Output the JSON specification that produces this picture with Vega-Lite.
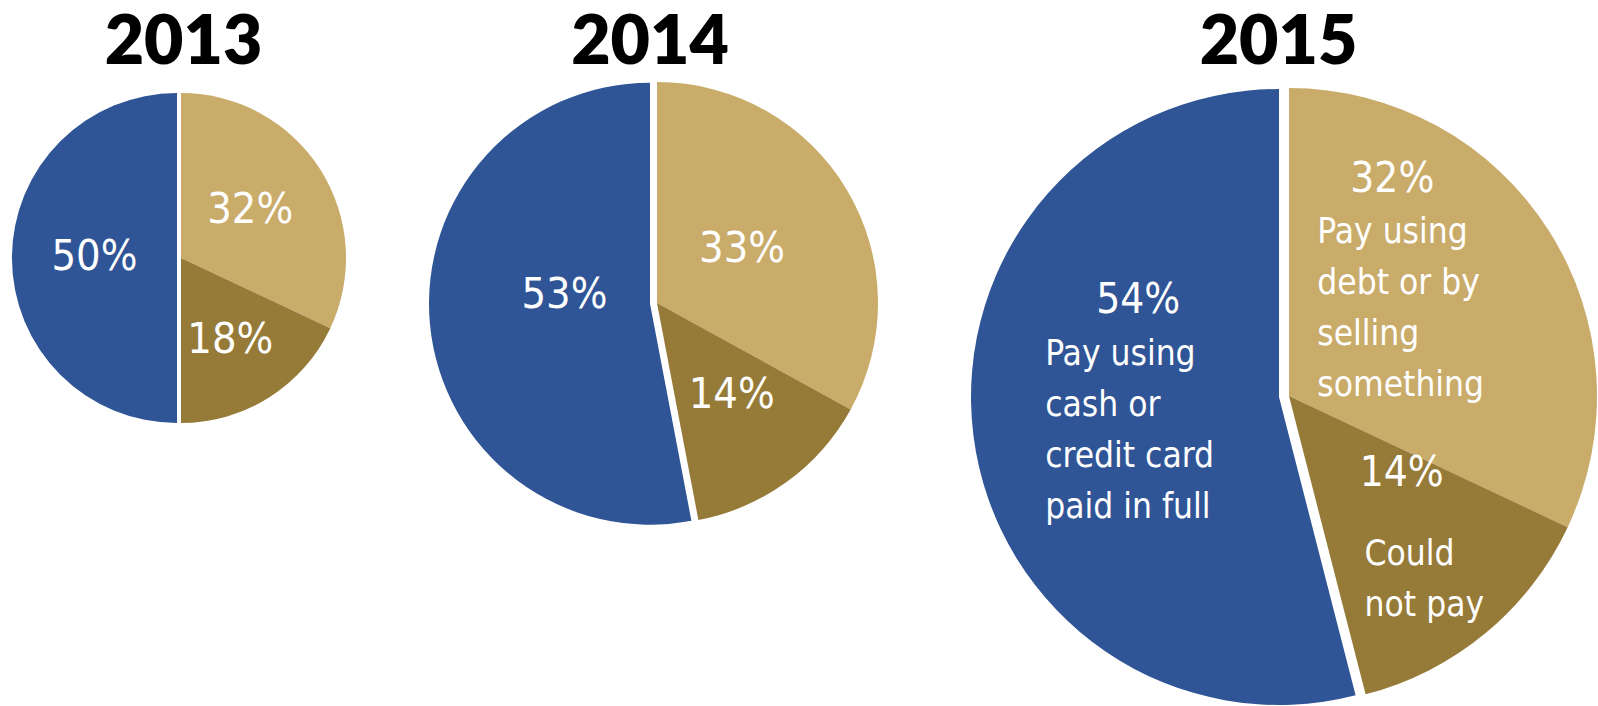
{
  "$schema": "https://vega.github.io/schema/vega-lite/v6.json",
  "padding": {"left": 12, "top": 10, "right": 0, "bottom": 0},
  "bounds": "flush",
  "spacing": 10,
  "background": "white",
  "config": {
    "view": {"stroke": null},
    "title": {"font": "Lato", "fontWeight": 800, "fontSize": 68, "color": "black", "anchor": "middle", "frame": "group", "baseline": "alphabetic", "offset": 9},
    "text": {"font": "DejaVu Sans Condensed, sans-serif", "color": "white", "baseline": "alphabetic", "align": "center", "lineBreak": "\n"}
  },
  "datasets": {
    "pies": [
      {"year": 2013, "answer": "Pay using\ndebt or by\nselling\nsomething", "share": 0.32, "rank": 1},
      {"year": 2013, "answer": "Could\nnot pay", "share": 0.18, "rank": 2},
      {"year": 2013, "answer": "Pay using\ncash or\ncredit card\npaid in full", "share": 0.50, "rank": 3},
      {"year": 2014, "answer": "Pay using\ndebt or by\nselling\nsomething", "share": 0.33, "rank": 1},
      {"year": 2014, "answer": "Could\nnot pay", "share": 0.14, "rank": 2},
      {"year": 2014, "answer": "Pay using\ncash or\ncredit card\npaid in full", "share": 0.53, "rank": 3},
      {"year": 2015, "answer": "Pay using\ndebt or by\nselling\nsomething", "share": 0.32, "rank": 1},
      {"year": 2015, "answer": "Could\nnot pay", "share": 0.14, "rank": 2},
      {"year": 2015, "answer": "Pay using\ncash or\ncredit card\npaid in full", "share": 0.54, "rank": 3}
    ]
  },
  "hconcat": [
    {
      "width": 306, "height": 342,
      "title": {"text": "2013", "dx": 2.5},
      "data": {"name": "pies"},
      "transform": [{"filter": "datum.year == 2013"}],
      "encoding": {
        "theta": {"field": "share", "type": "quantitative", "stack": true},
        "order": {"field": "rank", "type": "quantitative", "sort": "ascending"},
        "detail": {"field": "answer", "type": "nominal"}
      },
      "layer": [
        {"mark": {"type": "arc", "radius": 165},
         "encoding": {
           "color": {"field": "answer", "type": "nominal", "legend": null, "scale": {"domain": ["Pay using\ndebt or by\nselling\nsomething", "Could\nnot pay", "Pay using\ncash or\ncredit card\npaid in full"], "range": ["#C9AB6A", "#967A38", "#2F5596"]}},
           "opacity": {"condition": {"test": "datum.rank == 3", "value": 0}, "value": 1}}},
        {"mark": {"type": "arc", "radius": 165, "xOffset": -4, "yOffset": 0},
         "encoding": {
           "color": {"field": "answer", "type": "nominal", "legend": null},
           "opacity": {"condition": {"test": "datum.rank == 3", "value": 1}, "value": 0}}},
        {"mark": {"type": "text", "radius": 82, "dy": 9, "fontSize": 43},
         "encoding": {"text": {"field": "share", "type": "quantitative", "format": ".0%"},
           "opacity": {"condition": {"test": "datum.rank == 1", "value": 1}, "value": 0}}},
        {"mark": {"type": "text", "radius": 92, "dy": 17, "fontSize": 43},
         "encoding": {"text": {"field": "share", "type": "quantitative", "format": ".0%"},
           "opacity": {"condition": {"test": "datum.rank == 2", "value": 1}, "value": 0}}},
        {"mark": {"type": "text", "radius": 86.5, "dy": 12, "fontSize": 43},
         "encoding": {"text": {"field": "share", "type": "quantitative", "format": ".0%"},
           "opacity": {"condition": {"test": "datum.rank == 3", "value": 1}, "value": 0}}}
      ]
    },
    {
      "width": 626, "height": 432,
      "title": {"text": "2014", "dx": -7, "offset": 4},
      "data": {"name": "pies"},
      "transform": [{"filter": "datum.year == 2014"}],
      "encoding": {
        "theta": {"field": "share", "type": "quantitative", "stack": true},
        "order": {"field": "rank", "type": "quantitative", "sort": "ascending"},
        "detail": {"field": "answer", "type": "nominal"}
      },
      "layer": [
        {"mark": {"type": "arc", "radius": 221},
         "encoding": {
           "color": {"field": "answer", "type": "nominal", "legend": null, "scale": {"domain": ["Pay using\ndebt or by\nselling\nsomething", "Could\nnot pay", "Pay using\ncash or\ncredit card\npaid in full"], "range": ["#C9AB6A", "#967A38", "#2F5596"]}},
           "opacity": {"condition": {"test": "datum.rank == 3", "value": 0}, "value": 1}}},
        {"mark": {"type": "arc", "radius": 221, "xOffset": -7, "yOffset": 0.7},
         "encoding": {
           "color": {"field": "answer", "type": "nominal", "legend": null},
           "opacity": {"condition": {"test": "datum.rank == 3", "value": 1}, "value": 0}}},
        {"mark": {"type": "text", "radius": 100, "dx": -1, "dy": 10, "fontSize": 43},
         "encoding": {"text": {"field": "share", "type": "quantitative", "format": ".0%"},
           "opacity": {"condition": {"test": "datum.rank == 1", "value": 1}, "value": 0}}},
        {"mark": {"type": "text", "radius": 127, "dy": 2, "fontSize": 43},
         "encoding": {"text": {"field": "share", "type": "quantitative", "format": ".0%"},
           "opacity": {"condition": {"test": "datum.rank == 2", "value": 1}, "value": 0}}},
        {"mark": {"type": "text", "radius": 93, "dy": -4, "fontSize": 43},
         "encoding": {"text": {"field": "share", "type": "quantitative", "format": ".0%"},
           "opacity": {"condition": {"test": "datum.rank == 3", "value": 1}, "value": 0}}}
      ]
    },
    {
      "width": 618, "height": 618,
      "title": {"text": "2015", "dx": -10.5},
      "data": {"name": "pies"},
      "transform": [{"filter": "datum.year == 2015"}],
      "encoding": {
        "theta": {"field": "share", "type": "quantitative", "stack": true},
        "order": {"field": "rank", "type": "quantitative", "sort": "ascending"},
        "detail": {"field": "answer", "type": "nominal"}
      },
      "layer": [
        {"mark": {"type": "arc", "radius": 308},
         "encoding": {
           "color": {"field": "answer", "type": "nominal", "legend": null, "scale": {"domain": ["Pay using\ndebt or by\nselling\nsomething", "Could\nnot pay", "Pay using\ncash or\ncredit card\npaid in full"], "range": ["#C9AB6A", "#967A38", "#2F5596"]}},
           "opacity": {"condition": {"test": "datum.rank == 3", "value": 0}, "value": 1}}},
        {"mark": {"type": "arc", "radius": 308, "xOffset": -10, "yOffset": 1},
         "encoding": {
           "color": {"field": "answer", "type": "nominal", "legend": null},
           "opacity": {"condition": {"test": "datum.rank == 3", "value": 1}, "value": 0}}},
        {"mark": {"type": "text", "radius": 120, "dx": 2, "dy": -140, "fontSize": 42},
         "encoding": {"text": {"field": "share", "type": "quantitative", "format": ".0%"},
           "opacity": {"condition": {"test": "datum.rank == 1", "value": 1}, "value": 0}}},
        {"mark": {"type": "text", "radius": 120, "dx": -73, "dy": -89, "fontSize": 35, "align": "left", "lineHeight": 51},
         "encoding": {"text": {"field": "answer", "type": "nominal"},
           "opacity": {"condition": {"test": "datum.rank == 1", "value": 1}, "value": 0}}},
        {"mark": {"type": "text", "radius": 150, "dx": 17, "dy": -26, "fontSize": 42},
         "encoding": {"text": {"field": "share", "type": "quantitative", "format": ".0%"},
           "opacity": {"condition": {"test": "datum.rank == 2", "value": 1}, "value": 0}}},
        {"mark": {"type": "text", "radius": 150, "dx": -20, "dy": 53, "fontSize": 35, "align": "left", "lineHeight": 51},
         "encoding": {"text": {"field": "answer", "type": "nominal"},
           "opacity": {"condition": {"test": "datum.rank == 2", "value": 1}, "value": 0}}},
        {"mark": {"type": "text", "radius": 150, "dx": -2, "dy": -102, "fontSize": 42},
         "encoding": {"text": {"field": "share", "type": "quantitative", "format": ".0%"},
           "opacity": {"condition": {"test": "datum.rank == 3", "value": 1}, "value": 0}}},
        {"mark": {"type": "text", "radius": 150, "dx": -95, "dy": -50, "fontSize": 35, "align": "left", "lineHeight": 51},
         "encoding": {"text": {"field": "answer", "type": "nominal"},
           "opacity": {"condition": {"test": "datum.rank == 3", "value": 1}, "value": 0}}}
      ]
    }
  ]
}
